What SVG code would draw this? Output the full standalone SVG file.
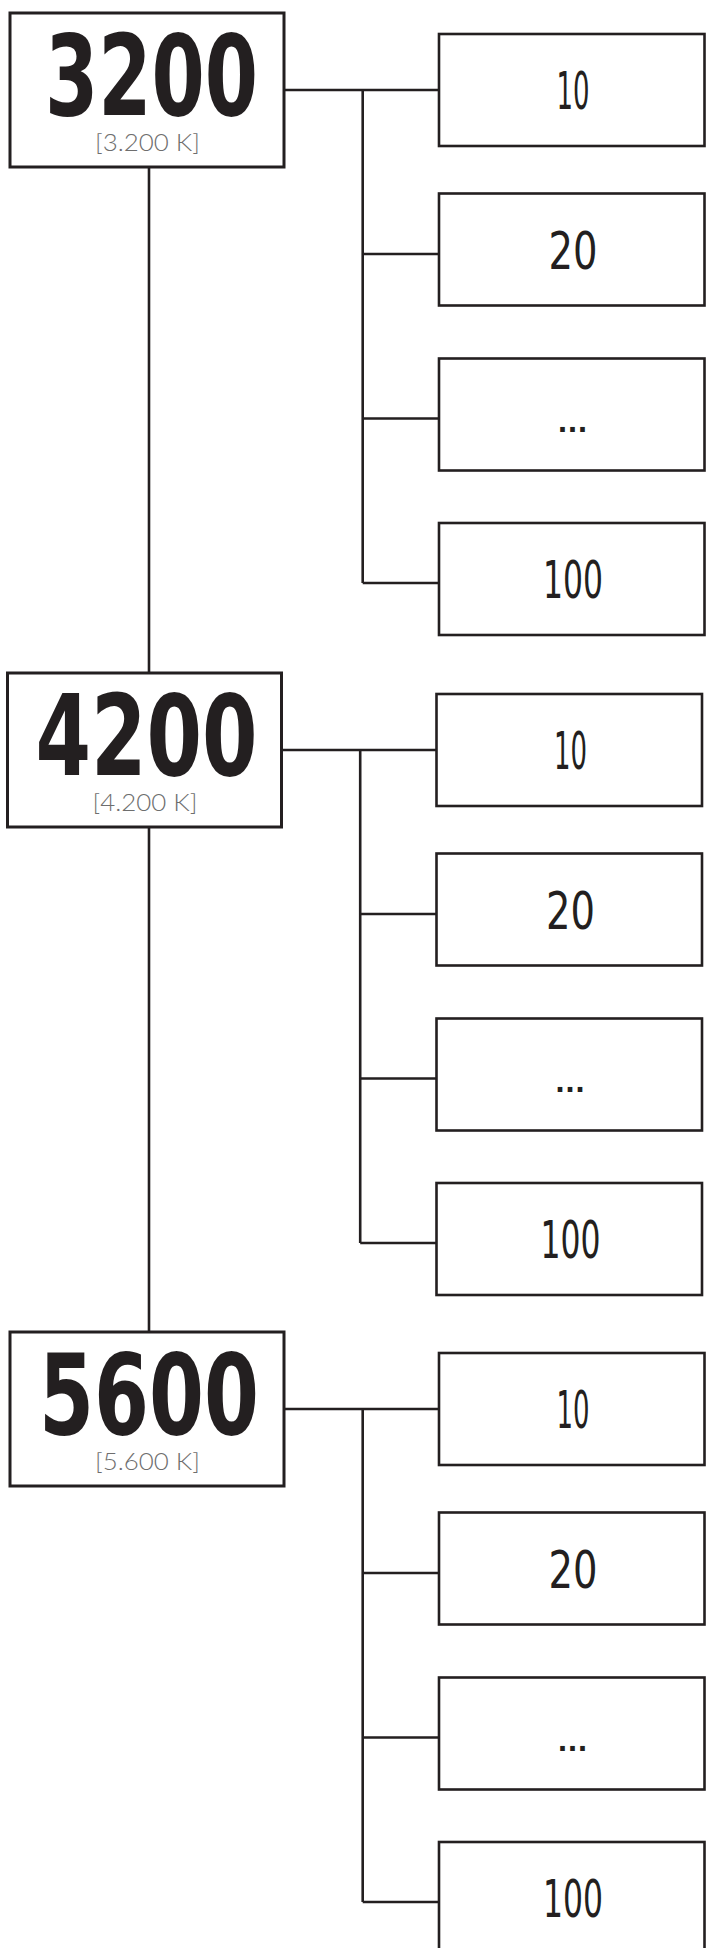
<svg xmlns="http://www.w3.org/2000/svg" width="706" height="1948" viewBox="0 0 706 1948">
<style>
.main{fill:#fff;stroke:#231f20;stroke-width:3}
.child{fill:#fff;stroke:#231f20;stroke-width:2.6}
.ln{fill:none;stroke:#231f20;stroke-width:2.6}
.big{font-family:"DejaVu Sans",sans-serif;font-stretch:condensed;font-weight:bold;font-size:112px;fill:#231f20;text-anchor:middle}
.sub{font-family:"Lato","Open Sans",sans-serif;font-weight:300;font-size:24px;fill:#6e6e6e;text-anchor:middle}
.dig{font-family:"DejaVu Sans",sans-serif;font-stretch:condensed;font-size:51px;fill:#231f20;text-anchor:middle}
.dots{font-family:"DejaVu Sans",sans-serif;font-weight:bold;font-size:26px;fill:#231f20;text-anchor:middle}
</style>
<rect width="706" height="1948" fill="#fff"/>
<g id="connectors">
<path class="ln" d="M149 166.7V672.7M149 826.7V1331.7"/>
<path class="ln" d="M284 90H439M362.7 90V583M362.7 254H439M362.7 418.5H439M362.7 583H439"/>
<path class="ln" transform="translate(-2.5 660)" d="M284 90H439M362.7 90V583M362.7 254H439M362.7 418.5H439M362.7 583H439"/>
<path class="ln" transform="translate(0 1319)" d="M284 90H439M362.7 90V583M362.7 254H439M362.7 418.5H439M362.7 583H439"/>
</g>
<g id="n3200">
<rect class="main" x="10" y="13" width="274" height="154"/>
<text class="big" x="151.5" y="115" textLength="213" lengthAdjust="spacingAndGlyphs">3200</text>
<text class="sub" x="147.5" y="151" textLength="105" lengthAdjust="spacingAndGlyphs">[3.200 K]</text>
</g>
<g id="n3200-10"><rect class="child" x="439" y="34" width="265.5" height="112"/><text class="dig" x="573" y="109" textLength="33" lengthAdjust="spacingAndGlyphs">10</text></g>
<g id="n3200-20"><rect class="child" x="439" y="193.5" width="265.5" height="112"/><text class="dig" x="573" y="269" textLength="49" lengthAdjust="spacingAndGlyphs">20</text></g>
<g id="n3200-dots"><rect class="child" x="439" y="358.5" width="265.5" height="112"/><text class="dots" x="572.5" y="432" textLength="30" lengthAdjust="spacingAndGlyphs">...</text></g>
<g id="n3200-100"><rect class="child" x="439" y="523" width="265.5" height="112"/><text class="dig" x="573" y="598" textLength="60" lengthAdjust="spacingAndGlyphs">100</text></g>

<g id="n4200" transform="translate(-2.5 660)">
<rect class="main" x="10" y="13" width="274" height="154"/>
<text class="big" x="149" y="115" textLength="222" lengthAdjust="spacingAndGlyphs">4200</text>
<text class="sub" x="147.5" y="151" textLength="105" lengthAdjust="spacingAndGlyphs">[4.200 K]</text>
</g>
<g id="n4200-10" transform="translate(-2.5 660)"><rect class="child" x="439" y="34" width="265.5" height="112"/><text class="dig" x="573" y="109" textLength="33" lengthAdjust="spacingAndGlyphs">10</text></g>
<g id="n4200-20" transform="translate(-2.5 660)"><rect class="child" x="439" y="193.5" width="265.5" height="112"/><text class="dig" x="573" y="269" textLength="49" lengthAdjust="spacingAndGlyphs">20</text></g>
<g id="n4200-dots" transform="translate(-2.5 660)"><rect class="child" x="439" y="358.5" width="265.5" height="112"/><text class="dots" x="572.5" y="432" textLength="30" lengthAdjust="spacingAndGlyphs">...</text></g>
<g id="n4200-100" transform="translate(-2.5 660)"><rect class="child" x="439" y="523" width="265.5" height="112"/><text class="dig" x="573" y="598" textLength="60" lengthAdjust="spacingAndGlyphs">100</text></g>

<g id="n5600" transform="translate(0 1319)">
<rect class="main" x="10" y="13" width="274" height="154"/>
<text class="big" x="149" y="115" textLength="220" lengthAdjust="spacingAndGlyphs">5600</text>
<text class="sub" x="147.5" y="151" textLength="105" lengthAdjust="spacingAndGlyphs">[5.600 K]</text>
</g>
<g id="n5600-10" transform="translate(0 1319)"><rect class="child" x="439" y="34" width="265.5" height="112"/><text class="dig" x="573" y="109" textLength="33" lengthAdjust="spacingAndGlyphs">10</text></g>
<g id="n5600-20" transform="translate(0 1319)"><rect class="child" x="439" y="193.5" width="265.5" height="112"/><text class="dig" x="573" y="269" textLength="49" lengthAdjust="spacingAndGlyphs">20</text></g>
<g id="n5600-dots" transform="translate(0 1319)"><rect class="child" x="439" y="358.5" width="265.5" height="112"/><text class="dots" x="572.5" y="432" textLength="30" lengthAdjust="spacingAndGlyphs">...</text></g>
<g id="n5600-100" transform="translate(0 1319)"><rect class="child" x="439" y="523" width="265.5" height="112"/><text class="dig" x="573" y="598" textLength="60" lengthAdjust="spacingAndGlyphs">100</text></g>
</svg>
